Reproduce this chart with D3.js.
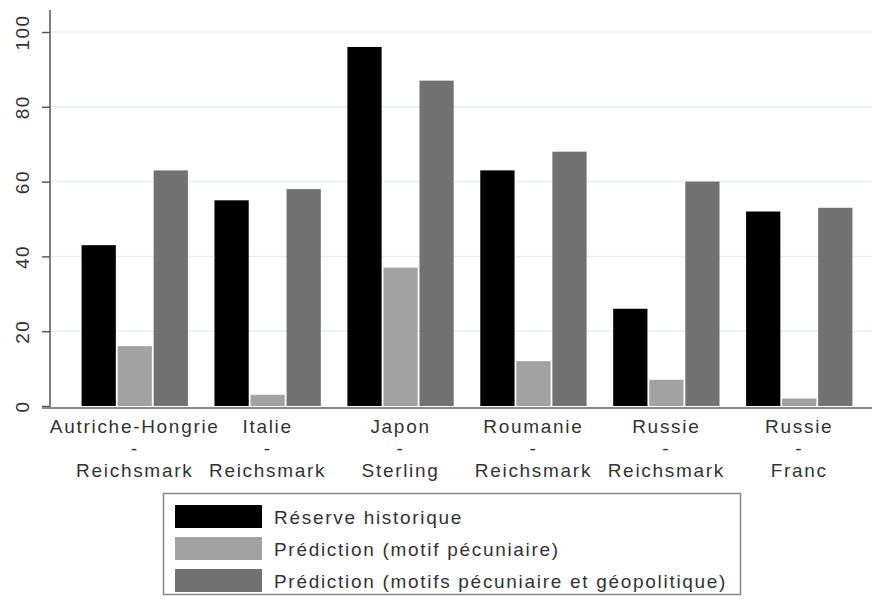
<!DOCTYPE html>
<html>
<head>
<meta charset="utf-8">
<script src="https://cdn.jsdelivr.net/npm/d3@7"></script>
<style>
  body { margin: 0; background: #fff; }
  svg { display: block; font-family: "Liberation Sans", Arial, sans-serif; }
</style>
</head>
<body>
<div id="chart"></div>
<script>
const width = 872, height = 599;

// data
const pairs = [
  ["Autriche-Hongrie", "Reichsmark"],
  ["Italie", "Reichsmark"],
  ["Japon", "Sterling"],
  ["Roumanie", "Reichsmark"],
  ["Russie", "Reichsmark"],
  ["Russie", "Franc"]
];
const seriesNames = [
  "Réserve historique",
  "Prédiction (motif pécuniaire)",
  "Prédiction (motifs pécuniaire et géopolitique)"
];
const reserve = [43, 55, 96, 63, 26, 52];
const motifPecuniaire = [16, 3, 37, 12, 7, 2];
const motifsGeo = [63, 58, 87, 68, 60, 53];
const yTicks = [0, 20, 40, 60, 80, 100];
const colors = ["#000000", "#a2a2a2", "#727272"];

const series = [reserve, motifPecuniaire, motifsGeo];
const groups = pairs.map((p, i) => i);

const svg = d3.select("#chart")
  .append("svg")
  .attr("width", width)
  .attr("height", height);

const x = d3.scaleBand()
  .domain(groups)
  .range([55, 879])
  .paddingInner(0.2)
  .paddingOuter(0.2);

const xs = d3.scaleBand()
  .domain([0, 1, 2])
  .range([0, x.bandwidth()])
  .paddingInner(0.05);

const y = d3.scaleLinear()
  .domain([0, 100])
  .range([406, 32]);

// gridlines
svg.append("g")
  .selectAll("line")
  .data(yTicks.filter(d => d > 0))
  .join("line")
  .attr("x1", 50)
  .attr("x2", width)
  .attr("y1", d => y(d))
  .attr("y2", d => y(d))
  .attr("stroke", "#e6eff1")
  .attr("stroke-width", 1.5);

// bars
svg.append("g")
  .selectAll("g")
  .data(series)
  .join("g")
  .attr("fill", (d, i) => colors[i])
  .each(function (vals, si) {
    d3.select(this).selectAll("rect")
      .data(vals)
      .join("rect")
      .attr("x", (d, i) => x(i) + xs(si))
      .attr("y", d => y(d))
      .attr("width", xs.bandwidth())
      .attr("height", d => y(0) - y(d));
  });

// y axis
const yAxis = svg.append("g")
  .attr("transform", "translate(50,0)")
  .call(d3.axisLeft(y).tickValues(yTicks).tickSize(8));
yAxis.select(".domain")
  .attr("d", "M0,10V408")
  .attr("stroke", "#555")
  .attr("stroke-width", 1.5);
yAxis.selectAll(".tick line").attr("stroke", "#555").attr("stroke-width", 1.5);
yAxis.selectAll(".tick text")
  .attr("font-size", 19)
  .attr("letter-spacing", 1.5)
  .attr("fill", "#333")
  .attr("x", 0)
  .attr("y", 0)
  .attr("dy", "0.35em")
  .attr("text-anchor", "middle")
  .attr("transform", "translate(-28,0) rotate(-90)");

// x baseline
svg.append("line")
  .attr("x1", 42).attr("x2", width)
  .attr("y1", 408).attr("y2", 408)
  .attr("stroke", "#8a8a8a")
  .attr("stroke-width", 2);

// x labels
const xl = svg.append("g")
  .selectAll("text")
  .data(pairs)
  .join("text")
  .attr("text-anchor", "middle")
  .attr("font-size", 19)
  .attr("letter-spacing", 1.7)
  .attr("fill", "#333");
xl.append("tspan").attr("x", (d, i) => x(i) + x.bandwidth() / 2).attr("y", 433).text(d => d[0]);
xl.append("tspan").attr("x", (d, i) => x(i) + x.bandwidth() / 2).attr("y", 455).text("-");
xl.append("tspan").attr("x", (d, i) => x(i) + x.bandwidth() / 2).attr("y", 477).text(d => d[1]);

// legend
const legend = svg.append("g");
legend.append("rect")
  .attr("x", 163.5).attr("y", 493.5)
  .attr("width", 577).attr("height", 101)
  .attr("fill", "#fff")
  .attr("stroke", "#8a8a8a")
  .attr("stroke-width", 1.5);
const rows = legend.selectAll("g")
  .data(seriesNames)
  .join("g")
  .attr("transform", (d, i) => `translate(0,${505 + i * 32})`);
rows.append("rect")
  .attr("x", 175).attr("y", 0)
  .attr("width", 87).attr("height", 23)
  .attr("fill", (d, i) => colors[i]);
rows.append("text")
  .attr("x", 274).attr("y", 12)
  .attr("dy", "0.35em")
  .attr("font-size", 19)
  .attr("letter-spacing", 1.7)
  .attr("fill", "#333")
  .text(d => d);
</script>
</body>
</html>
